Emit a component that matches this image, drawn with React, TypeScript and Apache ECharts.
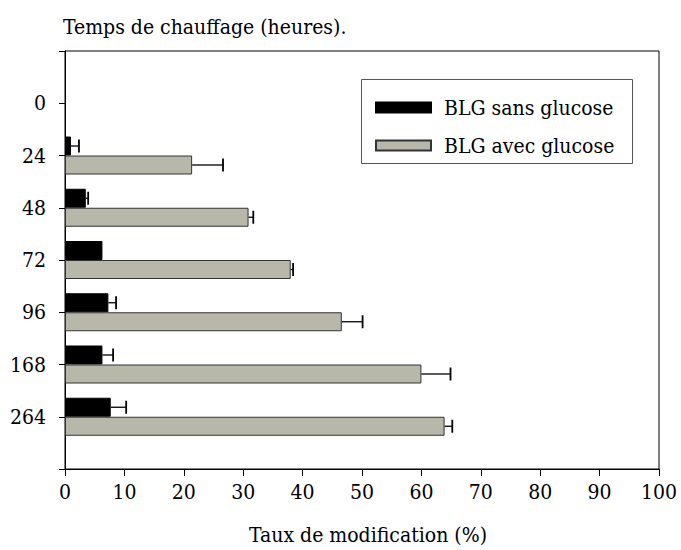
import React, { useEffect, useRef } from "react";
import * as echarts from "echarts";

const categories = ["0", "24", "48", "72", "96", "168", "264"];
const sansGlucose = [null, 1.0, 3.5, 6.3, 7.3, 6.3, 7.7];
const sansGlucoseErr = [null, 1.35, 0.4, 0, 1.3, 1.8, 2.6];
const avecGlucose = [null, 21.4, 30.9, 38.0, 46.6, 60.0, 63.9];
const avecGlucoseErr = [null, 5.2, 0.8, 0.4, 3.5, 4.9, 1.3];
const xTicks = [0, 100, 10];

const FONT = "DejaVu Serif Condensed";
const GREY = "#b7b7aa";
const BAR_W = 19;

export default function App() {
  const ref = useRef<HTMLDivElement>(null);
  useEffect(() => {
    document.body.style.margin = "0";
    if (!ref.current) return;
    const chart = echarts.init(ref.current, null, { renderer: "svg" });
    const axisCats = ["", ...categories, ""];
    const pad = (arr: (number | null)[]) => [null, ...arr, null];

    const errData = (vals: (number | null)[], errs: (number | null)[], side: number) =>
      vals
        .map((v, i) => (v == null || errs[i] == null || errs[i] === 0 ? null : [v, (v as number) + (errs[i] as number), i + 1, side]))
        .filter((d) => d != null);

    const renderErr = (params: any, api: any) => {
      const v = api.value(0);
      const hi = api.value(1);
      const idx = api.value(2);
      const side = api.value(3);
      const p0 = api.coord([v, idx]);
      const p1 = api.coord([hi, idx]);
      const y = p0[1] + side * (BAR_W / 2);
      const style = { stroke: "#000", lineWidth: 1.3 };
      return {
        type: "group",
        children: [
          { type: "line", shape: { x1: p0[0], y1: y, x2: p1[0], y2: y }, style },
          { type: "line", shape: { x1: p1[0], y1: y - 6.5, x2: p1[0], y2: y + 6.5 }, style: { stroke: "#000", lineWidth: 1.8 } },
        ],
      };
    };

    chart.setOption({
      animation: false,
      textStyle: { fontFamily: FONT, color: "#000" },
      title: {
        text: "Temps de chauffage (heures).",
        left: 63,
        top: 16,
        padding: 0,
        textStyle: { fontFamily: FONT, fontSize: 21, fontWeight: "normal", color: "#000" },
      },
      grid: { left: 65, right: 22, top: 51, bottom: 80, show: true, borderColor: "#000", borderWidth: 1, containLabel: false },
      legend: {
        orient: "vertical",
        left: 375,
        top: 97,
        padding: 0,
        itemWidth: 55,
        itemHeight: 10,
        itemGap: 17,
        icon: "rect",
        textStyle: { fontFamily: FONT, fontSize: 21, color: "#000", padding: [0, 0, 0, 8] },
        data: ["BLG sans glucose", "BLG avec glucose"],
      },
      graphic: [
        {
          type: "rect",
          shape: { x: 361.5, y: 79.5, width: 271, height: 84 },
          style: { fill: "none", stroke: "#555", lineWidth: 1 },
          z: 0,
        },
      ],
      xAxis: {
        type: "value",
        min: xTicks[0],
        max: xTicks[1],
        interval: xTicks[2],
        name: "Taux de modification (%)",
        nameLocation: "middle",
        nameGap: 55,
        nameTextStyle: { fontFamily: FONT, fontSize: 21, color: "#000", padding: [0, 0, 0, 12] },
        axisLine: { show: true, lineStyle: { color: "#000", width: 1 } },
        axisTick: { show: true, length: 7, lineStyle: { color: "#000" } },
        axisLabel: { fontFamily: FONT, fontSize: 21, color: "#000", margin: 12 },
        splitLine: { show: false },
      },
      yAxis: {
        type: "category",
        inverse: true,
        boundaryGap: false,
        data: axisCats,
        axisLine: { show: true, lineStyle: { color: "#000", width: 1 } },
        axisTick: { show: true, length: 6, alignWithLabel: true, interval: 0, lineStyle: { color: "#000" } },
        axisLabel: { fontFamily: FONT, fontSize: 21, color: "#000", margin: 19, interval: 0 },
        splitLine: { show: false },
      },
      series: [
        {
          name: "BLG sans glucose",
          type: "bar",
          barWidth: BAR_W,
          barGap: "0%",
          data: pad(sansGlucose),
          itemStyle: { color: "#000", borderColor: "#000", borderWidth: 1 },
        },
        {
          name: "BLG avec glucose",
          type: "bar",
          barWidth: BAR_W,
          barGap: "0%",
          data: pad(avecGlucose),
          itemStyle: { color: GREY, borderColor: "#333", borderWidth: 1 },
        },
        {
          type: "custom",
          renderItem: renderErr,
          data: errData(sansGlucose, sansGlucoseErr, -1),
          encode: { x: [0, 1], y: 2 },
          z: 5,
        },
        {
          type: "custom",
          renderItem: renderErr,
          data: errData(avecGlucose, avecGlucoseErr, 1),
          encode: { x: [0, 1], y: 2 },
          z: 5,
        },
      ],
    });
    return () => chart.dispose();
  }, []);
  return <div ref={ref} style={{ width: 681, height: 550 }} />;
}
